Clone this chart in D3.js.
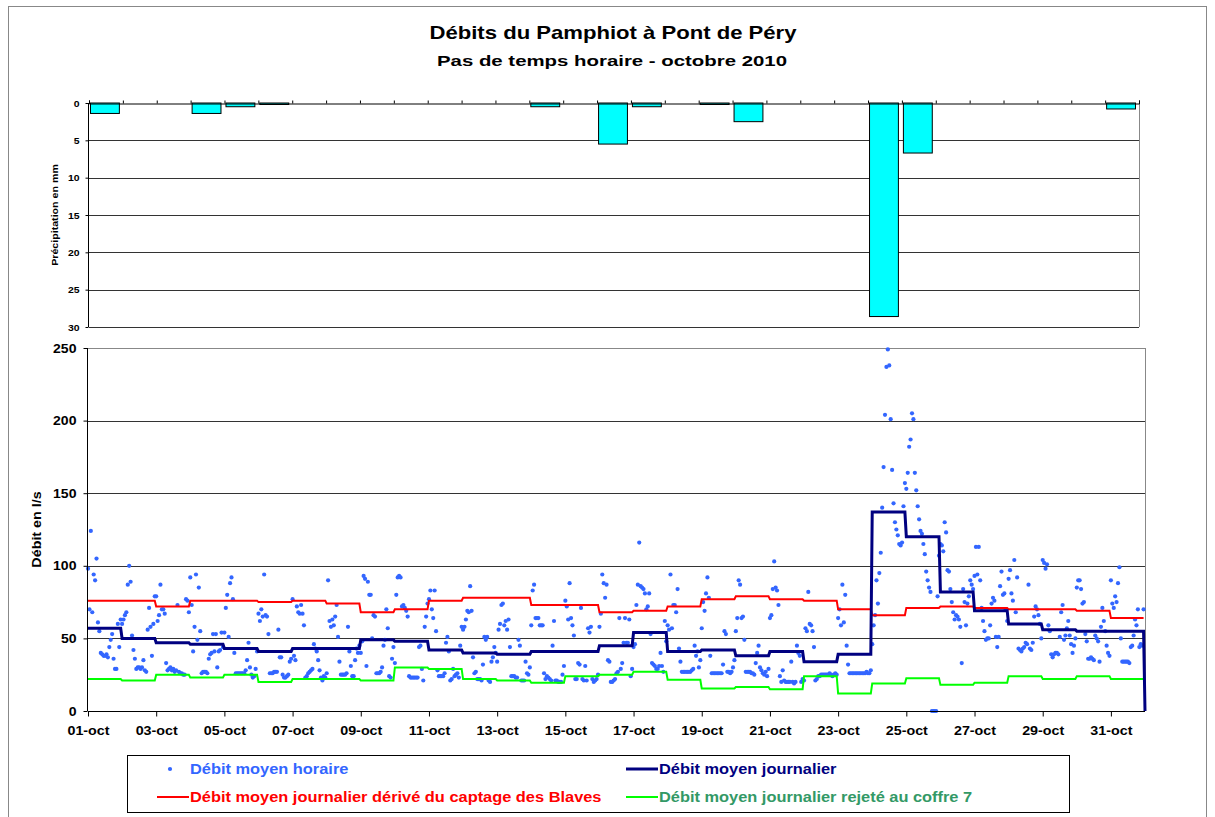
<!DOCTYPE html>
<html>
<head>
<meta charset="utf-8">
<script src="https://cdn.jsdelivr.net/npm/d3@7"></script>
<style>
  body { margin: 0; background: #fff; }
  text { font-family: "Liberation Sans", Arial, sans-serif; font-weight: bold; }
</style>
</head>
<body>
<svg id="chart" width="1215" height="817"></svg>
<script>
const xTickLabels = ['01-oct', '03-oct', '05-oct', '07-oct', '09-oct', '11-oct', '13-oct', '15-oct',
  '17-oct', '19-oct', '21-oct', '23-oct', '25-oct', '27-oct', '29-oct', '31-oct'];

// pluie journaliere (mm), 1 -> 31 oct
const precip = [1.4, 0, 0, 1.4, 0.5, 0.2, 0, 0, 0, 0, 0, 0, 0, 0.5, 0, 5.5,
  0.5, 0, 0.2, 2.5, 0, 0, 0, 28.6, 6.7, 0, 0, 0, 0, 0, 0.8];

const dailyMean = [57, 50, 47, 46, 43, 41, 43, 43, 49, 48, 42, 40, 39, 41, 41, 45,
  54, 41, 42, 38, 41, 34, 39, 137, 120, 82, 69, 60, 56, 55, 55];
const dailyCaptage = [76, 76, 72, 76, 76, 75, 76, 74, 68, 70, 76, 78, 78, 73, 73, 68,
  69, 72, 77, 79, 77, 76, 70, 66, 71, 72, 71, 70, 70, 69, 64];
const dailyRejet = [22, 21, 25, 23, 25, 20, 22, 22, 21, 30, 29, 22, 21, 19.5, 24, 25,
  27, 21.5, 15.5, 16.5, 15, 24, 12, 19, 22.5, 18, 19.5, 24, 22, 24, 22];

// debit horaire, une ligne par jour (24 h)
const hourly = [
  [98, 70, 124, 68, 94, 90, 105, 61, 55, 40, 39, 38, 38, 39, 37, 44, 49, 53, 36, 29, 29, 60, 44, 63],
  [60, 63, 66, 68, 87, 100, 89, 52, 42, 36, 29, 30, 30, 29, 30, 35, 28, 27, 56, 71, 58, 38, 60, 79],
  [79, 62, 66, 87, 70, 70, 67, 33, 28, 29, 30, 28, 29, 27, 28, 73, 27, 26, 26, 25, 25, 77, 76, 68],
  [92, 73, 41, 58, 94, 49, 85, 55, 26, 27, 27, 27, 26, 36, 39, 40, 53, 41, 53, 30, 41, 42, 54, 44],
  [54, 71, 80, 51, 88, 92, 77, 40, 26, 26, 26, 26, 26, 26, 26, 28, 35, 47, 30, 25, 23, 24, 29, 41],
  [67, 62, 70, 65, 94, 66, 65, 53, 26, 26, 26, 27, 27, 27, 56, 37, 37, 25, 23, 23, 24, 25, 34, 36],
  [77, 38, 35, 72, 68, 67, 73, 67, 59, 23, 24, 26, 27, 28, 29, 46, 43, 41, 35, 28, 23, 21, 24, 23],
  [26, 90, 62, 58, 63, 59, 65, 73, 51, 34, 25, 25, 25, 25, 26, 58, 41, 31, 24, 24, 35, 43, 40, 45],
  [40, 48, 93, 91, 31, 89, 80, 80, 50, 66, 65, 26, 26, 26, 27, 30, 45, 49, 70, 57, 24, 23, 36, 44],
  [33, 80, 92, 93, 92, 72, 73, 71, 69, 65, 24, 23, 23, 23, 23, 23, 23, 44, 45, 29, 21, 58, 65, 74],
  [77, 83, 70, 64, 83, 55, 28, 24, 24, 24, 24, 26, 47, 51, 41, 21, 22, 29, 24, 25, 26, 23, 45, 58],
  [56, 58, 63, 69, 68, 86, 69, 37, 26, 27, 22, 22, 22, 21, 32, 51, 49, 51, 21, 20, 34, 37, 44, 40],
  [34, 56, 60, 73, 74, 59, 62, 56, 63, 44, 24, 24, 24, 23, 23, 49, 45, 21, 21, 21, 34, 26, 25, 30],
  [59, 83, 87, 64, 64, 64, 59, 59, 59, 26, 22, 24, 23, 22, 21, 45, 62, 21, 21, 20, 20, 20, 25, 31],
  [76, 72, 63, 88, 64, 59, 52, 22, 22, 33, 32, 71, 22, 21, 31, 21, 57, 54, 58, 22, 20, 21, 22, 25],
  [58, 67, 94, 88, 78, 87, 35, 34, 20, 20, 21, 22, 26, 27, 64, 29, 33, 47, 64, 47, 47, 63, 24, 29],
  [44, 46, 73, 87, 116, 86, 85, 84, 81, 70, 72, 81, 53, 33, 32, 31, 29, 29, 31, 40, 31, 27, 62, 48],
  [59, 56, 94, 57, 73, 73, 68, 84, 43, 34, 27, 27, 27, 27, 27, 27, 27, 28, 29, 45, 38, 41, 30, 35],
  [57, 75, 69, 81, 92, 78, 38, 26, 26, 26, 26, 26, 26, 26, 26, 32, 55, 53, 27, 27, 26, 27, 30, 35],
  [55, 64, 90, 87, 64, 65, 49, 27, 27, 27, 27, 26, 26, 25, 33, 40, 45, 30, 28, 26, 25, 27, 24, 29],
  [64, 66, 84, 103, 85, 83, 73, 24, 20, 28, 21, 20, 20, 20, 20, 34, 20, 19, 20, 45, 40, 38, 20, 22],
  [21, 57, 55, 82, 60, 59, 55, 44, 21, 22, 24, 24, 25, 25, 25, 25, 25, 25, 26, 25, 24, 25, 26, 25],
  [64, 70, 59, 87, 61, 80, 45, 32, 26, 26, 26, 26, 26, 26, 26, 26, 26, 26, 26, 26, 27, 26, 26, 28],
  [46, 59, 66, 90, 74, 95, 109, 140, 168, 204, 237, 249, 238, 201, 166, 143, 130, 125, 121, 115, 114, 116, 141, 157],
  [153, 164, 182, 187, 205, 201, 164, 152, 141, 132, 124, 122, 115, 108, 96, 90, 85, 82, 0, 0, 0, 0, 79, 107],
  [115, 114, 110, 130, 123, 97, 96, 84, 75, 68, 63, 66, 65, 63, 58, 33, 84, 75, 59, 74, 79, 90, 87, 84],
  [93, 113, 94, 113, 90, 71, 62, 55, 49, 50, 50, 59, 74, 78, 76, 51, 44, 51, 86, 96, 80, 81, 70, 62],
  [91, 97, 81, 76, 104, 68, 92, 43, 42, 41, 43, 44, 47, 46, 87, 43, 42, 47, 65, 72, 70, 66, 60, 50],
  [104, 102, 98, 101, 59, 55, 39, 37, 39, 40, 40, 39, 51, 68, 73, 49, 52, 57, 62, 52, 46, 40, 45, 50],
  [85, 90, 90, 84, 74, 75, 53, 48, 36, 36, 37, 36, 35, 52, 50, 48, 34, 58, 71, 62, 55, 45, 40, 38],
  [90, 74, 71, 79, 75, 88, 99, 50, 34, 34, 34, 34, 34, 33, 44, 45, 52, 63, 59, 70, 44, 46, 45, 70]
];

const svg = d3.select('#chart');
const grid = '#333';

// le rendu d'origine est un peu etire en largeur
const stretch = (sel, k) => sel.each(function () {
  let len = this.getComputedTextLength();
  d3.select(this).attr('textLength', len * k).attr('lengthAdjust', 'spacingAndGlyphs');
});

// cadre exterieur
svg.append('rect')
  .attr('x', 8.5).attr('y', 6.5)
  .attr('width', 1198).attr('height', 830)
  .attr('fill', 'none')
  .attr('stroke', '#888');

svg.append('text')
  .attr('x', 613).attr('y', 39)
  .attr('text-anchor', 'middle')
  .attr('font-size', 18.5)
  .attr('textLength', 367)
  .attr('lengthAdjust', 'spacingAndGlyphs')
  .text('Débits du Pamphiot à Pont de Péry');

svg.append('text')
  .attr('x', 612).attr('y', 66)
  .attr('text-anchor', 'middle')
  .attr('font-size', 15.5)
  .attr('textLength', 350)
  .attr('lengthAdjust', 'spacingAndGlyphs')
  .text('Pas de temps horaire - octobre 2010');

// ---- graphique pluie ----
const xp = d3.scaleLinear().domain([0, 31]).range([89, 1139]);
const yp = d3.scaleLinear().domain([0, 30]).range([103, 327]);
const rain = svg.append('g');

rain.selectAll('line.grid')
  .data(yp.ticks(6).filter(d => d > 0))
  .join('line')
  .attr('class', 'grid')
  .attr('x1', xp(0)).attr('x2', xp(31))
  .attr('y1', d => Math.round(yp(d)) + 0.5).attr('y2', d => Math.round(yp(d)) + 0.5)
  .attr('stroke', grid);

rain.append('line')
  .attr('x1', xp(31) + 0.5).attr('x2', xp(31) + 0.5)
  .attr('y1', yp(0)).attr('y2', yp(30))
  .attr('stroke', '#888');

rain.selectAll('rect.bar')
  .data(precip.map((v, i) => ({ i, v })).filter(d => d.v > 0))
  .join('rect')
  .attr('class', 'bar')
  .attr('x', d => xp(d.i) + 1.5)
  .attr('width', xp(1) - xp(0) - 5)
  .attr('y', yp(0))
  .attr('height', d => Math.max(yp(d.v) - yp(0), 1))
  .attr('fill', '#00ffff')
  .attr('stroke', '#000')
  .attr('stroke-width', 1);

rain.append('g')
  .attr('transform', `translate(0,${yp(0) + 0.5})`)
  .call(d3.axisTop(xp).tickValues(d3.range(0, 32)).tickSize(3).tickFormat(''))
  .call(g => g.selectAll('path,line').attr('stroke', '#000'));

rain.append('g')
  .attr('transform', `translate(${xp(0) - 0.5},0)`)
  .call(d3.axisLeft(yp).ticks(6).tickSize(3).tickPadding(6))
  .call(g => g.selectAll('path,line').attr('stroke', '#000'))
  .call(g => g.select('.domain').attr('d', `M0,${yp(0)}V${yp(30)}`))
  .call(g => g.selectAll('text').attr('font-size', 9.5).attr('font-family', null).attr('fill', '#000'))
  .call(g => stretch(g.selectAll('text'), 1.1));

rain.append('text')
  .attr('transform', `translate(58,${(yp(0) + yp(30)) / 2}) rotate(-90)`)
  .attr('text-anchor', 'middle')
  .attr('font-size', 9.5)
  .text('Précipitation en mm')
  .call(t => stretch(t, 1.12));

// ---- graphique debits ----
const x = d3.scaleLinear().domain([0, 31]).range([88, 1145]);
const y = d3.scaleLinear().domain([0, 250]).range([711, 348]);
const flow = svg.append('g');

flow.selectAll('line.grid')
  .data(y.ticks(5).filter(d => d > 0))
  .join('line')
  .attr('class', 'grid')
  .attr('x1', x(0)).attr('x2', x(31))
  .attr('y1', d => Math.round(y(d)) + 0.5).attr('y2', d => Math.round(y(d)) + 0.5)
  .attr('stroke', d => d === 250 ? '#888' : grid);

flow.append('line')
  .attr('x1', x(31) + 0.5).attr('x2', x(31) + 0.5)
  .attr('y1', y(0)).attr('y2', y(250))
  .attr('stroke', '#888');

const pts = hourly.flatMap((day, d) => day.map((v, h) => ({ t: d + h / 24, v })));

flow.selectAll('circle')
  .data(pts)
  .join('circle')
  .attr('cx', d => x(d.t))
  .attr('cy', d => y(d.v))
  .attr('r', 2.1)
  .attr('fill', '#3366ff');

// series journalieres tracees au pas horaire
const stepPts = arr => arr.flatMap((v, d) => d3.range(24).map(h => ({ t: d + h / 24, v })));
const line = d3.line().x(d => x(d.t)).y(d => y(d.v));

flow.append('path')
  .datum(stepPts(dailyRejet))
  .attr('d', line)
  .attr('fill', 'none')
  .attr('stroke', '#00ff00')
  .attr('stroke-width', 2);

flow.append('path')
  .datum(stepPts(dailyCaptage))
  .attr('d', line)
  .attr('fill', 'none')
  .attr('stroke', '#ff0000')
  .attr('stroke-width', 2);

flow.append('path')
  .datum(stepPts(dailyMean).concat([{ t: 31, v: 0 }]))
  .attr('d', line)
  .attr('fill', 'none')
  .attr('stroke', '#000080')
  .attr('stroke-width', 3);

flow.append('g')
  .attr('transform', `translate(0,${y(0) + 0.5})`)
  .call(d3.axisBottom(x).tickValues(d3.range(0, 31, 2)).tickSize(5).tickPadding(9)
    .tickFormat((d, i) => xTickLabels[i]))
  .call(g => g.selectAll('path,line').attr('stroke', '#000'))
  .call(g => g.select('.domain').attr('d', `M${x(0)},0H${x(31)}`))
  .call(g => g.selectAll('text').attr('font-size', 13).attr('font-family', null).attr('fill', '#000'))
  .call(g => stretch(g.selectAll('text'), 1.1));

flow.append('g')
  .attr('transform', `translate(${x(0) - 0.5},0)`)
  .call(d3.axisLeft(y).ticks(5).tickSize(4).tickPadding(7))
  .call(g => g.selectAll('path,line').attr('stroke', '#000'))
  .call(g => g.select('.domain').attr('d', `M0,${y(0)}V${y(250)}`))
  .call(g => g.selectAll('text').attr('font-size', 13).attr('font-family', null).attr('fill', '#000'))
  .call(g => stretch(g.selectAll('text'), 1.08));

flow.append('text')
  .attr('transform', `translate(41,${(y(0) + y(250)) / 2}) rotate(-90)`)
  .attr('text-anchor', 'middle')
  .attr('font-size', 13)
  .text('Débit en l/s')
  .call(t => stretch(t, 1.1));

// ---- legende ----
const legend = svg.append('g');
legend.append('rect')
  .attr('x', 127.5).attr('y', 755.5)
  .attr('width', 942).attr('height', 57)
  .attr('fill', '#fff')
  .attr('stroke', '#000');

const items = [
  { label: 'Débit moyen horaire', color: '#3366ff', text: '#3366ff', x: 157, y: 769, dot: true },
  { label: 'Débit moyen journalier', color: '#000080', text: '#000080', x: 626, y: 769, w: 3 },
  { label: 'Débit moyen journalier dérivé du captage des Blaves', color: '#ff0000', text: '#ff0000', x: 157, y: 797, w: 2 },
  { label: 'Débit moyen journalier rejeté au coffre 7', color: '#00ff00', text: '#339966', x: 626, y: 797, w: 2 }
];

items.forEach(it => {
  if (it.dot) {
    legend.append('circle')
      .attr('cx', it.x + 13).attr('cy', it.y)
      .attr('r', 2.1).attr('fill', it.color);
  } else {
    legend.append('line')
      .attr('x1', it.x).attr('x2', it.x + 32)
      .attr('y1', it.y).attr('y2', it.y)
      .attr('stroke', it.color)
      .attr('stroke-width', it.w);
  }
  legend.append('text')
    .attr('x', it.x + 33).attr('y', it.y + 5)
    .attr('font-size', 14)
    .attr('fill', it.text)
    .text(it.label)
    .call(t => stretch(t, 1.17));
});
</script>
</body>
</html>
